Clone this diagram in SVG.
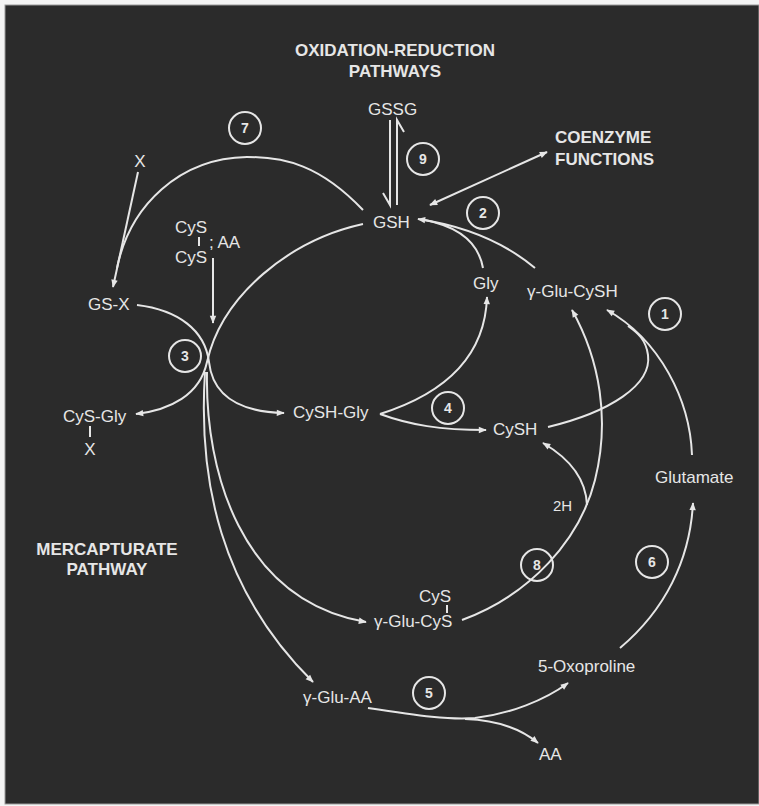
<svg xmlns="http://www.w3.org/2000/svg" width="759" height="806" viewBox="0 0 759 806">
<style>
  text { font-family: "Liberation Sans", Arial, sans-serif; fill: #e6e6e6; font-size: 17px; }
  .b { font-weight: bold; }
  .num { font-size: 14px; font-weight: bold; text-anchor: middle; }
  .c { fill: none; stroke: #e6e6e6; stroke-width: 2; }
  .ln { fill: none; stroke: #e6e6e6; stroke-width: 2; }
  .arr { marker-end: url(#ah); }
  .mid { text-anchor: middle; }
</style>
<defs>
  <marker id="ah" viewBox="0 0 10 10" refX="9" refY="5" markerWidth="10" markerHeight="8" markerUnits="userSpaceOnUse" orient="auto-start-reverse">
    <path d="M0,1 L10,5 L0,9 z" fill="#e6e6e6"/>
  </marker>
</defs>
<rect x="0" y="0" width="759" height="806" fill="#f4f4f4"/>
<rect x="5" y="5" width="754" height="799" fill="#2b2b2b" stroke="#9a9a9a" stroke-width="1"/>

<g id="connectors">
  <!-- GSSG <-> GSH -->
  <path class="ln" d="M390,120 L390,205 L383,193"/>
  <path class="ln" d="M397,205 L397,120 L404,132"/>
  <!-- GSH <-> coenzyme -->
  <path class="ln arr" d="M430,205 L547,152" marker-start="url(#ah)"/>
  <!-- gamma-Glu-CySH -> GSH (2) -->
  <path class="ln arr" d="M535,268 C505,243 465,226 418,219"/>
  <!-- Gly -> GSH -->
  <path class="ln" d="M483,268 C478,240 455,226 425,220"/>
  <!-- arc 7: GSH -> GS-X -->
  <path class="ln" d="M363,210 C320,165 285,157 247,157 C180,158 130,205 117,268"/>
  <!-- X -> GS-X -->
  <path class="ln arr" d="M138,172 L113,287"/>
  <!-- CyS-CyS ; AA down -->
  <path class="ln arr" d="M213,258 L213,323"/>
  <!-- GSH -> junction 3 -> CyS-Gly -->
  <path class="ln arr" d="M363,224 C290,240 222,295 207,362 C200,395 170,410 136,414"/>
  <!-- GS-X -> junction -> CySH-Gly -->
  <path class="ln arr" d="M137,305 C178,310 205,330 209,362 C213,398 242,412 284,413"/>
  <!-- junction -> gamma-Glu-AA -->
  <path class="ln arr" d="M205,372 C198,480 220,590 313,682"/>
  <!-- junction -> gamma-Glu-CyS -->
  <path class="ln arr" d="M207,372 C205,470 240,600 366,622"/>
  <!-- CySH-Gly -> Gly -->
  <path class="ln arr" d="M380,414 C440,395 485,360 487,297"/>
  <!-- CySH-Gly -> CySH -->
  <path class="ln arr" d="M380,414 C410,425 440,430 486,430"/>
  <!-- CySH -> gamma-Glu-CySH (1) -->
  <path class="ln" d="M548,427 C610,412 652,385 648,355 C646,340 638,333 628,326"/>
  <!-- Glutamate -> gamma-Glu-CySH -->
  <path class="ln arr" d="M692,455 C690,400 660,340 607,310"/>
  <!-- 5-Oxoproline -> Glutamate (6) -->
  <path class="ln arr" d="M620,648 C665,610 690,560 693,503"/>
  <!-- gamma-Glu-AA -> 5-Oxoproline / AA (5) -->
  <path class="ln arr" d="M368,708 C420,716 450,720 475,718 C510,714 545,700 568,683"/>
  <path class="ln arr" d="M465,719 C495,720 520,728 538,743"/>
  <!-- gamma-Glu-CyS -> gamma-Glu-CySH (8) -->
  <path class="ln arr" d="M462,620 C530,595 580,540 595,480 C610,420 600,360 572,310"/>
  <!-- 2H -> CySH -->
  <path class="ln arr" d="M587,505 C586,480 572,460 543,443"/>
</g>

<g id="title-redox">
  <text class="b mid" x="395" y="56">OXIDATION-REDUCTION</text>
  <text class="b mid" x="395" y="77">PATHWAYS</text>
</g>
<g id="title-coenzyme">
  <text class="b" x="555" y="143">COENZYME</text>
  <text class="b" x="555" y="165">FUNCTIONS</text>
</g>
<g id="title-mercapturate">
  <text class="b mid" x="107" y="555">MERCAPTURATE</text>
  <text class="b mid" x="107" y="575">PATHWAY</text>
</g>

<g id="node-GSSG"><text x="368" y="115">GSSG</text></g>
<g id="node-GSH"><text x="373" y="228">GSH</text></g>
<g id="node-X"><text class="mid" x="140" y="167">X</text></g>
<g id="node-cystine">
  <text x="175" y="233">CyS</text>
  <line class="ln" x1="199" y1="237" x2="199" y2="246" stroke-width="1.5"/>
  <text x="175" y="263">CyS</text>
  <text x="209" y="248">; AA</text>
</g>
<g id="node-GSX"><text x="88" y="310">GS-X</text></g>
<g id="node-CySGlyX">
  <text x="63" y="422">CyS-Gly</text>
  <line class="ln" x1="90" y1="426" x2="90" y2="437" stroke-width="1.5"/>
  <text class="mid" x="90" y="455">X</text>
</g>
<g id="node-CySHGly"><text x="293" y="418">CySH-Gly</text></g>
<g id="node-Gly"><text x="473" y="289">Gly</text></g>
<g id="node-gGluCySH"><text x="527" y="297">γ-Glu-CySH</text></g>
<g id="node-CySH"><text x="493" y="435">CySH</text></g>
<g id="node-Glutamate"><text x="655" y="483">Glutamate</text></g>
<g id="node-2H"><text x="553" y="511" style="font-size:15px">2H</text></g>
<g id="node-gGluCySCyS">
  <text x="419" y="602">CyS</text>
  <line class="ln" x1="447" y1="605" x2="447" y2="613" stroke-width="1.5"/>
  <text x="374" y="627">γ-Glu-CyS</text>
</g>
<g id="node-Oxoproline"><text x="538" y="672">5-Oxoproline</text></g>
<g id="node-gGluAA"><text x="303" y="703">γ-Glu-AA</text></g>
<g id="node-AA"><text x="539" y="760">AA</text></g>

<g id="step-1"><circle class="c" cx="665" cy="314" r="16"/><text class="num" x="665" y="319">1</text></g>
<g id="step-2"><circle class="c" cx="483" cy="213" r="16"/><text class="num" x="483" y="218">2</text></g>
<g id="step-3"><circle class="c" cx="185" cy="356" r="16"/><text class="num" x="185" y="361">3</text></g>
<g id="step-4"><circle class="c" cx="448" cy="408" r="16"/><text class="num" x="448" y="413">4</text></g>
<g id="step-5"><circle class="c" cx="429" cy="693" r="16"/><text class="num" x="429" y="698">5</text></g>
<g id="step-6"><circle class="c" cx="652" cy="562" r="16"/><text class="num" x="652" y="567">6</text></g>
<g id="step-7"><circle class="c" cx="245" cy="128" r="16"/><text class="num" x="245" y="133">7</text></g>
<g id="step-8"><circle class="c" cx="537" cy="565" r="16"/><text class="num" x="537" y="570">8</text></g>
<g id="step-9"><circle class="c" cx="423" cy="159" r="16"/><text class="num" x="423" y="164">9</text></g>
</svg>
